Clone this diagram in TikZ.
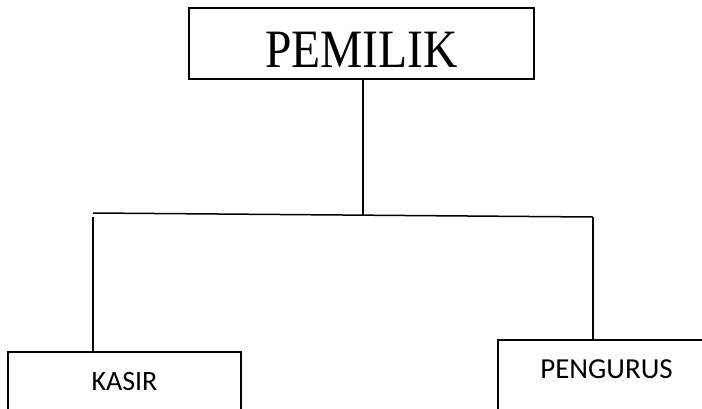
\documentclass[tikz,border=0pt]{standalone}
\usepackage{fontspec}
\newfontfamily\serifA{Liberation Serif}
\newfontfamily\sansA{Carlito}
\begin{document}
\begin{tikzpicture}[x=1pt,y=1pt,
  box/.style={draw=black,line width=1.5pt,rectangle,inner sep=0pt},
  conn/.style={draw=black,line width=1.5pt}]
\useasboundingbox (0,0) rectangle (702,-408);
\clip (0,0) rectangle (702,-408);
\node[box,minimum width=345pt,minimum height=71pt,text height=48.4pt,text depth=0pt,font=\serifA\fontsize{54}{60}\selectfont] (pem) at (361.5,-43.5) {\scalebox{0.88}[1]{PEMILIK}};
\node[box,minimum width=233pt,minimum height=68pt,text height=8pt,text depth=0pt,font=\sansA\fontsize{28}{32}\selectfont] (kas) at (124.5,-386) {KASIR};
\node[box,minimum width=217pt,minimum height=80pt,text height=0pt,text depth=4pt,font=\sansA\fontsize{29}{33}\selectfont] (peng) at (606.5,-380) {PENGURUS};
\coordinate (J) at (363,-215);
\coordinate (L) at (93,-213);
\coordinate (R) at (593,-217);
\coordinate (Lb) at (93,-217);
\draw[conn] (J |- pem.south) -- (J);
\draw[conn] (L) -- (R);
\draw[conn] (Lb) -- (kas.north -| Lb);
\draw[conn] (R) -- (peng.north -| R);
\end{tikzpicture}
\end{document}
